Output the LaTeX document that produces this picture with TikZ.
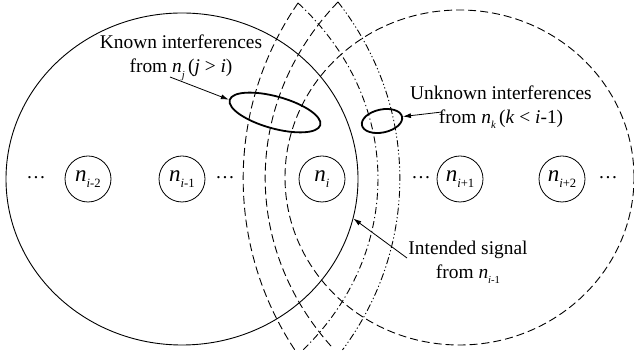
\documentclass[tikz,border=0pt]{standalone}
\usepackage{fontspec}
\setmainfont{Liberation Serif}
\usetikzlibrary{arrows.meta,shapes.geometric}
\newcommand{\lowidx}[1]{\raisebox{-0.28em}{\scalebox{0.55}{#1}}}

\begin{document}
\begin{tikzpicture}[x=1pt, y=1pt,
    station/.style={circle, draw, line width=0.8pt, minimum size=46pt, inner sep=0pt,
                    font=\fontsize{23}{23}\selectfont},
    reach/.style={ellipse, draw, line width=0.9pt, inner sep=0pt},
    hilite/.style={ellipse, draw, line width=1.8pt, inner sep=0pt},
    lbl/.style={align=center, inner sep=0pt, font=\fontsize{19.4}{24}\selectfont},
    more/.style={anchor=base, inner sep=0pt, font=\fontsize{19.4}{24}\selectfont},
    ptr/.style={-{Latex[length=8pt, width=5pt]}, line width=0.8pt},
    dashfront/.style={line width=0.9pt, dash pattern=on 8pt off 4pt},
    dotfront/.style={line width=0.9pt, dash pattern=on 7pt off 3pt on 1.2pt off 3pt},
    dotdotfront/.style={line width=0.9pt, dash pattern=on 7pt off 2.5pt on 1.2pt off 2.5pt on 1.2pt off 2.5pt}]
  \useasboundingbox (0,0) rectangle (634,358);
  % coverage of n_{i-1} and n_{i+1}
  \node[reach, minimum width=352pt, minimum height=332pt] (sig) at (182,179) {};
  \node[reach, dashfront, minimum width=349pt, minimum height=335pt] (next) at (459.5,180.5) {};
  % fronts from farther nodes
  \draw[dashfront] (298,355) arc[start angle=145.9, end angle=213.5, x radius=319, y radius=313.6];
  \draw[dashfront] (338,356) arc[start angle=139, end angle=219.6, x radius=297, y radius=268];
  \draw[dotfront] (298,355) arc[start angle=43.6, end angle=-42.1, x radius=290, y radius=255];
  \draw[dotdotfront] (338,356) arc[start angle=36.7, end angle=-35.3, x radius=312, y radius=296];
  % relay nodes
  \foreach \nm/\x/\sb in {nim2/88/{\textit{i}-2}, nim1/182/{\textit{i}-1}, ni/322/{\textit{i}},
                          nip1/460/{\textit{i}+1}, nip2/562/{\textit{i}+2}}
    \node[station] (\nm) at (\x,179) {\textit{n}\lowidx{\sb}};
  \foreach \x [count=\k] in {36,225,421,608}
    \node[more] (dots\k) at (\x,179) {\dots};
  % interference regions
  \node[hilite, minimum width=94pt, minimum height=32pt, rotate=-15.5] (known) at (275,245.5) {};
  \node[hilite, minimum width=41pt, minimum height=23pt, rotate=12] (unknown) at (382,237) {};
  % labels
  \node[lbl] (knowntxt) at (181,300)
    {Known interferences\\from \textit{n}\lowidx{\textit{j}}\,(\textit{j} > \textit{i})};
  \node[lbl] (unknowntxt) at (501,251)
    {Unknown interferences\\from \textit{n}\lowidx{\textit{k}}\,(\textit{k} < \textit{i}-1)};
  \node[lbl] (sigtxt) at (468,96)
    {Intended signal\\from \textit{n}\lowidx{\textit{i}-1}};
  \coordinate (knowntail) at (170,281);
  \coordinate (unknowntail) at (442,246);
  \coordinate (sigtail) at (407,100);
  \draw[ptr] (knowntail) -- (known.west);
  \draw[ptr] (unknowntail) -- (unknown.east);
  \draw[ptr] (sigtail) -- (sig.-13.2);
\end{tikzpicture}
\end{document}
